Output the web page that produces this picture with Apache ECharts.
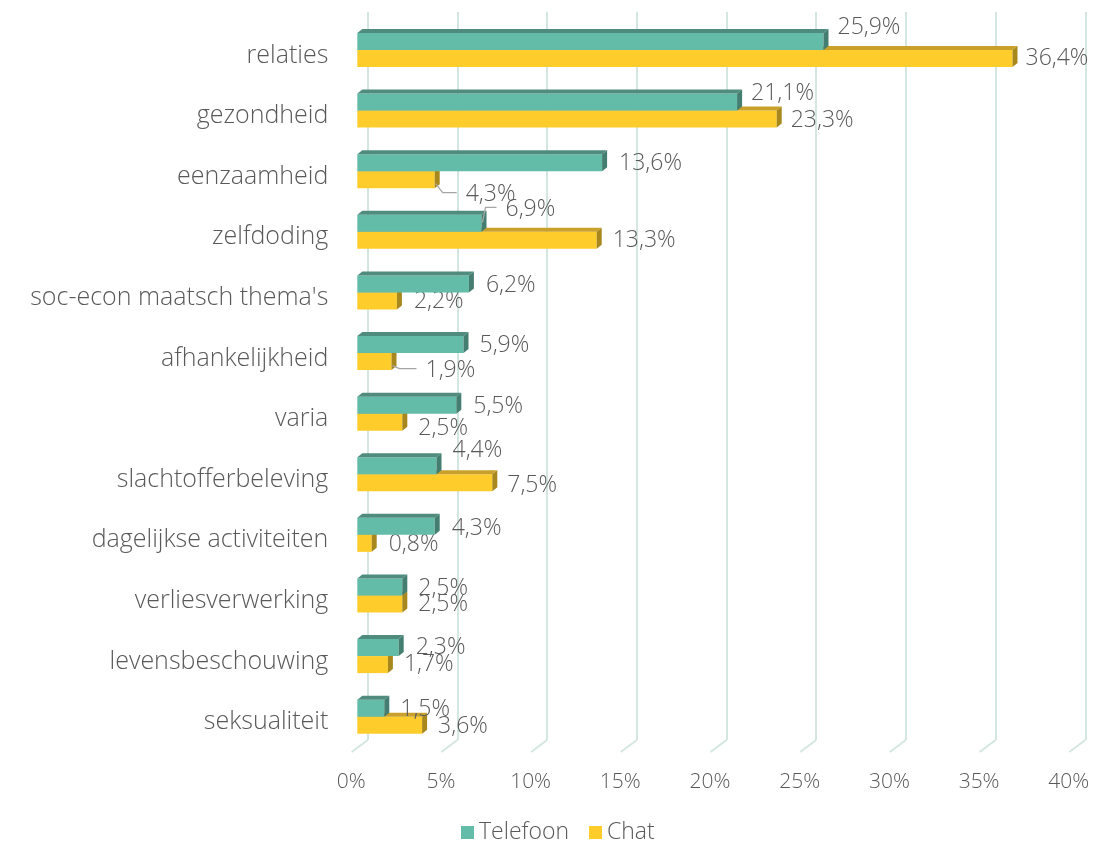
<!DOCTYPE html>
<html>
<head>
<meta charset="utf-8">
<title>Telefoon vs Chat</title>
<script src="https://cdn.jsdelivr.net/npm/echarts@6/dist/echarts.min.js"></script>
<style>
  html, body { margin: 0; padding: 0; background: #fff; }
  #chart { width: 1094px; height: 843px; }
</style>
</head>
<body>
<div id="chart"></div>
<script>
// data
const categories = ['relaties', 'gezondheid', 'eenzaamheid', 'zelfdoding', "soc-econ maatsch thema's",
  'afhankelijkheid', 'varia', 'slachtofferbeleving', 'dagelijkse activiteiten', 'verliesverwerking',
  'levensbeschouwing', 'seksualiteit'];
const telefoon = [25.9, 21.1, 13.6, 6.9, 6.2, 5.9, 5.5, 4.4, 4.3, 2.5, 2.3, 1.5];
const chat = [36.4, 23.3, 4.3, 13.3, 2.2, 1.9, 2.5, 7.5, 0.8, 2.5, 1.7, 3.6];
const xTicks = [0, 5, 10, 15, 20, 25, 30, 35, 40];

// hand placed labels (dx, dy from default spot), like in the original sheet
const telefoonNudge = { 0: [-2, -14], 1: [-2, -9], 2: [1, 1], 3: [8, -14], 4: [1, 2], 5: [0, 1],
  6: [1, 1], 7: [0, -15], 8: [1, 2], 9: [0, 1.5], 10: [1, 0], 11: [0, 1] };
const chatNudge = { 0: [-3, 0], 1: [-2, 1], 2: [15, 15], 3: [0, 0], 4: [1, 1], 5: [18, 9],
  6: [0, 6], 7: [-1, 2.5], 8: [1, 1.5], 9: [0, 0], 10: [0, 0], 11: [0, 1.5] };
const telefoonLeader = [3];
const chatLeader = [2, 5];

const TXT = '#595959';
const FONT = "'Open Sans', 'Noto Sans', sans-serif";
const BAR_H = 17, DX = 5, DY = -4, GAP = 11;

const fmt = v => v.toFixed(1).replace('.', ',') + '%';

function makeRender(upper, colors, nudge, leaders) {
  return function (params, api) {
    const i = api.value(1);
    const v = api.value(0);
    const s = api.coord([0, i]);
    const e = api.coord([v, i]);
    const x0 = s[0], x1 = e[0];
    const y0 = upper ? s[1] - BAR_H : s[1];
    const y1 = y0 + BAR_H;
    const kids = [
      { type: 'rect', shape: { x: x0, y: y0, width: x1 - x0, height: BAR_H }, style: { fill: colors[0] } },
      { type: 'polygon', shape: { points: [[x0, y0], [x0 + DX, y0 + DY], [x1 + DX, y0 + DY], [x1, y0]] }, style: { fill: colors[1] } },
      { type: 'polygon', shape: { points: [[x1, y0], [x1 + DX, y0 + DY], [x1 + DX, y1 + DY], [x1, y1]] }, style: { fill: colors[2] } }
    ];
    const n = nudge[i] || [0, 0];
    const lx = x1 + DX + GAP + n[0];
    const ly = y0 + BAR_H / 2 + n[1];
    kids.push({
      type: 'text', z2: 10,
      style: { x: lx, y: ly, text: fmt(v), fill: TXT, font: '300 23px ' + FONT, verticalAlign: 'middle', align: 'left' }
    });
    if (leaders.indexOf(i) >= 0) {
      const yb = y0 + BAR_H / 2 + (n[1] > 0 ? 4 : -1);
      const yl = ly - 2;
      kids.push({
        type: 'polyline', z2: 9,
        shape: { points: [[x1 + 1, yb], [x1 + (n[1] > 0 ? 8 : 4), yl], [lx - 9, yl]] },
        style: { stroke: '#a6a6a6', lineWidth: 1.3, fill: null }
      });
    }
    return { type: 'group', children: kids };
  };
}

const chart = echarts.init(document.getElementById('chart'));
const option = {
  backgroundColor: '#fff',
  animation: false,
  textStyle: { fontFamily: FONT },
  legend: {
    left: 456, top: 816,
    data: ['Telefoon', 'Chat'],
    icon: 'rect', itemWidth: 13, itemHeight: 13, itemGap: 20,
    textStyle: { color: TXT, fontSize: 23, fontWeight: 300 }
  },
  grid: [
    { left: 357.3, right: 16.7, top: 19.7, bottom: 96 },
    { left: 367.7, right: 8.7, top: 12, bottom: 103 }
  ],
  xAxis: [
    { gridIndex: 0, type: 'value', min: 0, max: 40, show: false },
    {
      gridIndex: 1, type: 'value', min: 0, max: 40, interval: 5,
      axisLine: { show: false }, axisTick: { show: false },
      splitLine: { show: true, lineStyle: { color: '#d4e6e1', width: 2 } },
      axisLabel: { formatter: '{value}%', color: TXT, fontSize: 21, fontWeight: 300, margin: 32, padding: [0, 33, 0, 0] }
    }
  ],
  yAxis: [
    {
      gridIndex: 0, type: 'category', inverse: true, data: categories,
      axisLine: { show: false }, axisTick: { show: false }, splitLine: { show: false },
      axisLabel: { color: TXT, fontSize: 25, fontWeight: 300, margin: 29, verticalAlign: 'top', lineHeight: 11 }
    },
    { gridIndex: 1, type: 'value', min: 0, max: 1, show: false }
  ],
  series: [
    {
      name: 'floor', type: 'custom', xAxisIndex: 1, yAxisIndex: 1, silent: true,
      data: xTicks.map(t => [t, 0]),
      renderItem: (params, api) => {
        const p = api.coord([api.value(0), 0]);
        return { type: 'line', shape: { x1: p[0], y1: p[1], x2: p[0] - 16, y2: p[1] + 12 },
          style: { stroke: '#d4e6e1', lineWidth: 2 } };
      }
    },
    {
      name: 'Telefoon', type: 'custom', xAxisIndex: 0, yAxisIndex: 0, z: 4,
      itemStyle: { color: '#63bca8' },
      encode: { x: 0, y: 1 },
      data: telefoon.map((v, i) => [v, i]),
      renderItem: makeRender(true, ['#63bca8', '#4f8c7d', '#437e70'], telefoonNudge, telefoonLeader)
    },
    {
      name: 'Chat', type: 'custom', xAxisIndex: 0, yAxisIndex: 0, z: 3,
      itemStyle: { color: '#fecd2b' },
      encode: { x: 0, y: 1 },
      data: chat.map((v, i) => [v, i]),
      renderItem: makeRender(false, ['#fecd2b', '#c9a12a', '#a8871c'], chatNudge, chatLeader)
    }
  ]
};
chart.setOption(option);
</script>
</body>
</html>
